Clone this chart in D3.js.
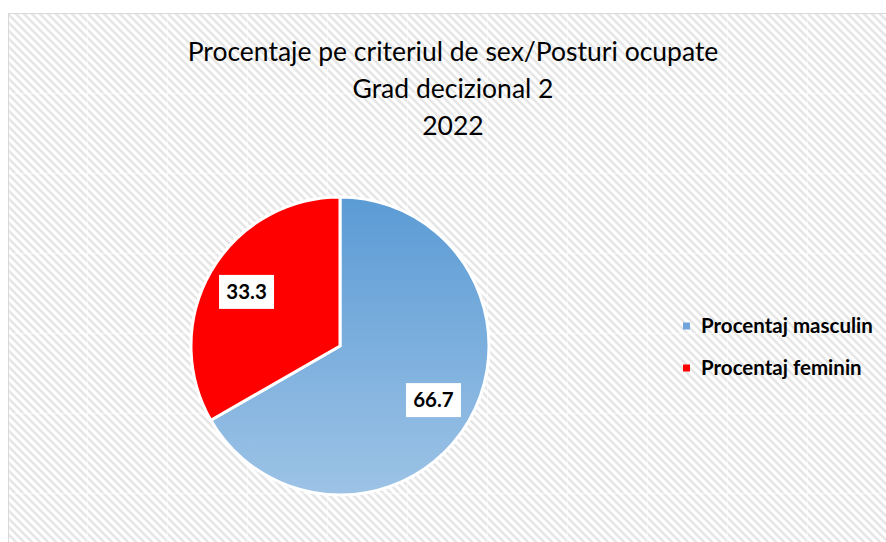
<!DOCTYPE html>
<html>
<head>
<meta charset="utf-8">
<script src="https://cdn.jsdelivr.net/npm/d3@7"></script>
<style>
  body { margin: 0; background: #fff; }
  svg { display: block; }
</style>
</head>
<body>
<script>
// data
var categories = ["Procentaj masculin", "Procentaj feminin"];
var values = [66.7, 33.3];
var titleLines = ["Procentaje pe criteriul de sex/Posturi ocupate", "Grad decizional 2", "2022"];

var width = 886,
    height = 542;

var svg = d3.select("body")
  .append("svg")
  .attr("width", width)
  .attr("height", height);

var defs = svg.append("defs");

// hatched chart background
var pat = defs.append("pattern")
  .attr("id", "hatch")
  .attr("patternUnits", "userSpaceOnUse")
  .attr("x", 7).attr("y", 13)
  .attr("width", 80).attr("height", 80);
pat.append("rect").attr("width", 80).attr("height", 80).attr("fill", "#fff");
var stripes = "";
for (var k = -80; k <= 80; k += 8) {
  stripes += "M" + (k - 2) + ",-2L" + (k + 82) + ",82";
}
pat.append("path")
  .attr("d", stripes)
  .attr("stroke", "#e6e6e6")
  .attr("stroke-width", 2.5);
pat.append("path")
  .attr("d", "M0.5,0V80M0,0.5H80")
  .attr("stroke", "#fff")
  .attr("stroke-opacity", 0.6)
  .attr("stroke-width", 1);

svg.append("rect")
  .attr("x", 8.5).attr("y", 13.5)
  .attr("width", width).attr("height", height)
  .attr("fill", "url(#hatch)")
  .attr("stroke", "#d9d9d9")
  .attr("stroke-width", 1);

// pie geometry
var cx = 340, cy = 346, r = 149;

// blue gradient (in pie group coordinates)
var grad = defs.append("linearGradient")
  .attr("id", "blueGrad")
  .attr("gradientUnits", "userSpaceOnUse")
  .attr("x1", 0).attr("y1", -r)
  .attr("x2", 0).attr("y2", r);
grad.append("stop").attr("offset", "0%").attr("stop-color", "#5b9bd5");
grad.append("stop").attr("offset", "100%").attr("stop-color", "#9dc3e6");

var color = d3.scaleOrdinal()
  .domain(categories)
  .range(["url(#blueGrad)", "#ff0000"]);
var legendColor = d3.scaleOrdinal()
  .domain(categories)
  .range(["#6fa5da", "#ff0000"]);

// title
svg.append("text")
  .attr("x", 453)
  .attr("y", 61)
  .attr("text-anchor", "middle")
  .style("font-family", "Lato, 'Open Sans', sans-serif")
  .style("font-size", "26.5px")
  .style("fill", "#000")
  .selectAll("tspan")
  .data(titleLines)
  .enter()
  .append("tspan")
  .attr("x", 453)
  .attr("dy", function(d, i) { return i === 0 ? 0 : 37; })
  .text(function(d) { return d; });

// pie
var pie = d3.pie().sort(null).value(function(d) { return d.value; });
var arcs = pie(categories.map(function(c, i) { return { name: c, value: values[i] }; }));
var arc = d3.arc().innerRadius(0).outerRadius(r);
var labelArc = d3.arc().innerRadius(108).outerRadius(108);

var g = svg.append("g").attr("transform", "translate(" + cx + "," + cy + ")");

g.selectAll(".slice")
  .data(arcs)
  .enter()
  .append("path")
  .attr("class", "slice")
  .attr("d", arc)
  .attr("fill", function(d) { return color(d.data.name); })
  .attr("stroke", "#fff")
  .attr("stroke-width", 3)
  .attr("stroke-linejoin", "round");

var lab = g.selectAll(".lab")
  .data(arcs)
  .enter()
  .append("g")
  .attr("class", "lab")
  .attr("transform", function(d) { return "translate(" + labelArc.centroid(d) + ")"; });

lab.append("rect")
  .attr("x", -27.5).attr("y", -17)
  .attr("width", 55).attr("height", 34)
  .attr("fill", "#fff");

lab.append("text")
  .attr("text-anchor", "middle")
  .attr("dy", "0.35em")
  .style("font-family", "Lato, 'Open Sans', sans-serif")
  .style("font-weight", "bold")
  .style("font-size", "20.5px")
  .style("fill", "#000")
  .text(function(d) { return d3.format(".1f")(d.data.value); });

// legend
var legend = svg.append("g")
  .selectAll(".legend")
  .data(categories)
  .enter()
  .append("g")
  .attr("class", "legend")
  .attr("transform", function(d, i) { return "translate(683," + (326 + i * 42) + ")"; });

legend.append("rect")
  .attr("x", 0).attr("y", -3.5)
  .attr("width", 7).attr("height", 7)
  .attr("fill", function(d) { return legendColor(d); });

legend.append("text")
  .attr("x", 18)
  .attr("dy", "0.35em")
  .style("font-family", "Lato, 'Open Sans', sans-serif")
  .style("font-weight", "bold")
  .style("font-size", "20.5px")
  .style("fill", "#000")
  .text(function(d) { return d; });
</script>
</body>
</html>
